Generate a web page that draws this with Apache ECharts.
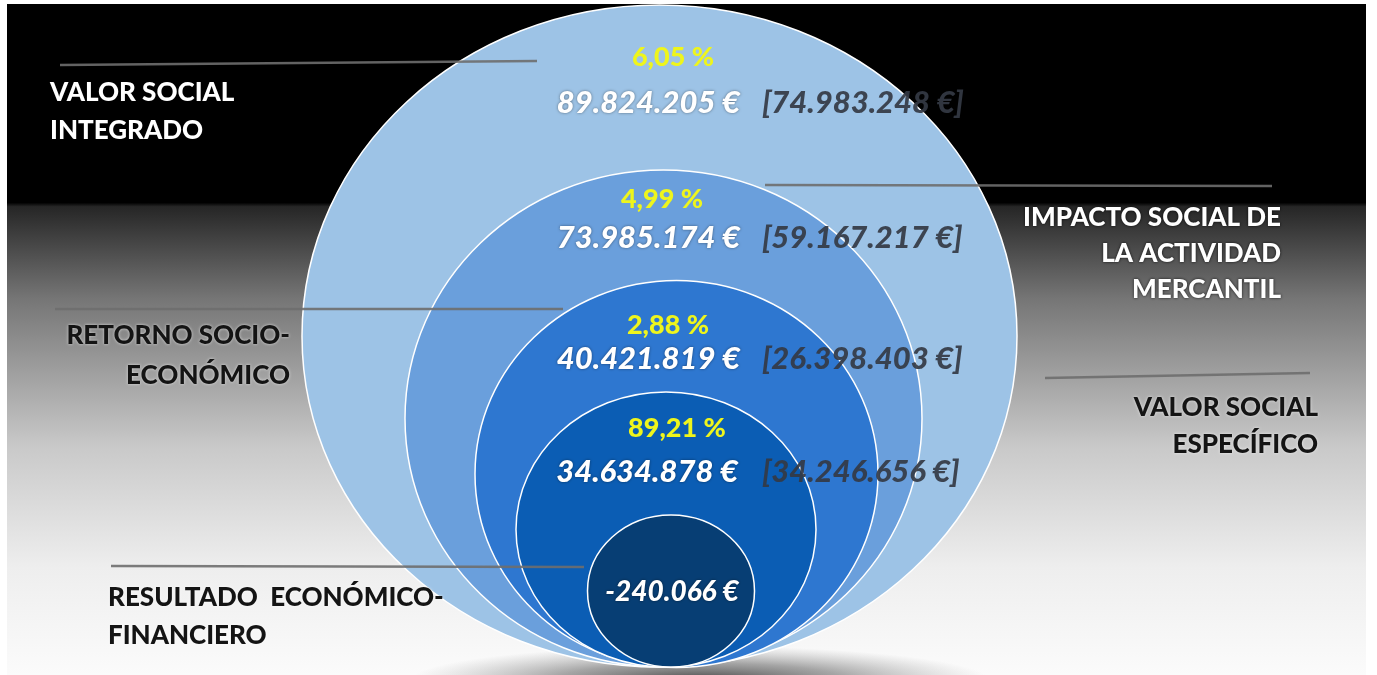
<!DOCTYPE html>
<html>
<head>
<meta charset="utf-8">
<script src="https://cdn.jsdelivr.net/npm/echarts@6/dist/echarts.min.js"></script>
<style>
  html, body { margin: 0; padding: 0; background: #ffffff; }
  #chart { width: 1377px; height: 675px; }
</style>
</head>
<body>
<div id="chart"></div>
<script>
// ---------- DATA ----------
const tierLabels = [
  'VALOR SOCIAL\nINTEGRADO',
  'IMPACTO SOCIAL DE\nLA ACTIVIDAD\nMERCANTIL',
  'RETORNO SOCIO-\nECONÓMICO',
  'VALOR SOCIAL\nESPECÍFICO',
  'RESULTADO  ECONÓMICO-\nFINANCIERO'
];
const tierValues = [89824205, 73985174, 40421819, 34634878, -240066];
const tierBracketValues = [74983248, 59167217, 26398403, 34246656, null];
const tierPercents = [6.05, 4.99, 2.88, 89.21, null];

// ---------- LAYOUT (axis units of a hidden cartesian frame) ----------
const ellCX = [659.5, 663.5, 676.5, 666, 671];
const ellCY = [336, 418.5, 474, 529.5, 591];
const ellRX = [357.5, 258.5, 201.5, 150, 83.5];
const ellRY = [331, 248.5, 193.5, 137.5, 76];
const ellColors = ['#9DC3E6', '#6A9FDC', '#2E77D0', '#0B5DB4', '#073E74'];

const pctX = [673, 662, 668, 677, null];
const pctY = [57, 199, 325, 428, null];
const valX = [740, 740, 740, 738, 672];
const valY = [103, 238, 359, 472, 592];
const brX = [762, 762, 762, 762, null];

const labX = [50, 1281, 290, 1318, 108];
const labY = [93, 218, 336, 408, 598];
const labAlign = ['left', 'right', 'right', 'right', 'left'];
const labDark = [false, false, true, true, true];
const labLineH = [38, 36, 40, 37, 38];

const leadX1 = [60, 765, 55, 1045, 111];
const leadY1 = [65, 185, 309, 378, 566];
const leadX2 = [537, 1272, 563, 1310, 584];
const leadY2 = [61, 186, 309, 373, 567];

// ---------- helpers ----------
function fmtEuro(v) {
  const neg = v < 0;
  const s = Math.abs(v).toString().replace(/\B(?=(\d{3})+(?!\d))/g, '.');
  return (neg ? '-' : '') + s + ' €';
}
function fmtPct(p) {
  return p.toFixed(2).replace('.', ',') + ' %';
}

const FONT = 'Lato, "Open Sans", sans-serif';

const chart = echarts.init(document.getElementById('chart'), null, { renderer: 'canvas' });

const ellipseData = tierValues.map((v, i) => [i, v]);

const option = {
  animation: false,
  backgroundColor: '#ffffff',
  graphic: [
    {
      type: 'rect', z: -10, silent: true,
      shape: { x: 7, y: 4, width: 1359, height: 671 },
      style: {
        fill: new echarts.graphic.LinearGradient(0, 0, 0, 1, [
          { offset: 0, color: '#000000' },
          { offset: 0.296, color: '#000000' },
          { offset: 0.302, color: '#262626' },
          { offset: 0.44, color: '#767676' },
          { offset: 0.66, color: '#c9c9c9' },
          { offset: 0.84, color: '#eeeeee' },
          { offset: 1, color: '#fbfbfb' }
        ])
      }
    },
    {
      type: 'circle', z: -5, silent: true,
      x: 700, y: 680, scaleX: 8.5, scaleY: 1,
      shape: { cx: 0, cy: 0, r: 34 },
      style: {
        fill: new echarts.graphic.RadialGradient(0.5, 0.5, 0.5, [
          { offset: 0, color: 'rgba(40,40,40,0.85)' },
          { offset: 0.5, color: 'rgba(80,80,80,0.5)' },
          { offset: 1, color: 'rgba(130,130,130,0)' }
        ])
      }
    }
  ],
  grid: { left: 0, right: 0, top: 0, bottom: 0 },
  xAxis: { type: 'value', min: 0, max: 1377, show: false },
  yAxis: { type: 'value', min: 0, max: 675, inverse: true, show: false },
  series: [
    {
      type: 'custom',
      coordinateSystem: 'cartesian2d',
      z: 2,
      data: ellipseData,
      renderItem: function (params, api) {
        const i = api.value(0);
        const c = api.coord([ellCX[i], ellCY[i]]);
        const s = api.size([ellRX[i], ellRY[i]]);
        return {
          type: 'ellipse',
          shape: { cx: c[0], cy: c[1], rx: s[0], ry: s[1] },
          style: { fill: ellColors[i], stroke: '#ffffff', lineWidth: 1.5 }
        };
      }
    },
    {
      type: 'custom',
      coordinateSystem: 'cartesian2d',
      z: 5,
      data: ellipseData,
      renderItem: function (params, api) {
        const i = api.value(0);
        const children = [];
        const p1 = api.coord([leadX1[i], leadY1[i]]);
        const p2 = api.coord([leadX2[i], leadY2[i]]);
        children.push({
          type: 'line',
          shape: { x1: p1[0], y1: p1[1], x2: p2[0], y2: p2[1] },
          style: { stroke: 'rgba(110,110,110,0.9)', lineWidth: 2.5 }
        });
        const lp = api.coord([labX[i], labY[i]]);
        const dark = labDark[i];
        children.push({
          type: 'text',
          x: lp[0],
          y: lp[1] - labLineH[i] / 2,
          style: {
            text: tierLabels[i],
            fill: dark ? '#141414' : '#ffffff',
            font: '900 26px ' + FONT,
            align: labAlign[i],
            verticalAlign: 'top',
            lineHeight: labLineH[i],
            textShadowColor: dark ? 'rgba(255,255,255,0.7)' : 'rgba(0,0,0,0.8)',
            textShadowBlur: 3
          }
        });
        if (tierPercents[i] != null) {
          const pp = api.coord([pctX[i], pctY[i]]);
          children.push({
            type: 'text', x: pp[0], y: pp[1],
            style: {
              text: fmtPct(tierPercents[i]),
              fill: '#EEF51C',
              font: '900 27px ' + FONT,
              align: 'center', verticalAlign: 'middle'
            }
          });
        }
        const vp = api.coord([valX[i], valY[i]]);
        const last = tierBracketValues[i] == null;
        children.push({
          type: 'text', x: vp[0], y: vp[1],
          style: {
            text: fmtEuro(tierValues[i]),
            fill: '#ffffff',
            font: 'italic 900 ' + (last ? 28 : 31) + 'px ' + FONT,
            align: last ? 'center' : 'right', verticalAlign: 'middle',
            textShadowColor: 'rgba(0,0,0,0.45)', textShadowBlur: 3
          }
        });
        if (!last) {
          const bp = api.coord([brX[i], valY[i]]);
          children.push({
            type: 'text', x: bp[0], y: bp[1],
            style: {
              text: '[' + fmtEuro(tierBracketValues[i]) + ']',
              fill: 'rgba(52,58,68,0.92)',
              font: 'italic 900 31px ' + FONT,
              align: 'left', verticalAlign: 'middle'
            }
          });
        }
        return { type: 'group', children: children };
      }
    }
  ]
};

chart.setOption(option);
</script>
</body>
</html>
